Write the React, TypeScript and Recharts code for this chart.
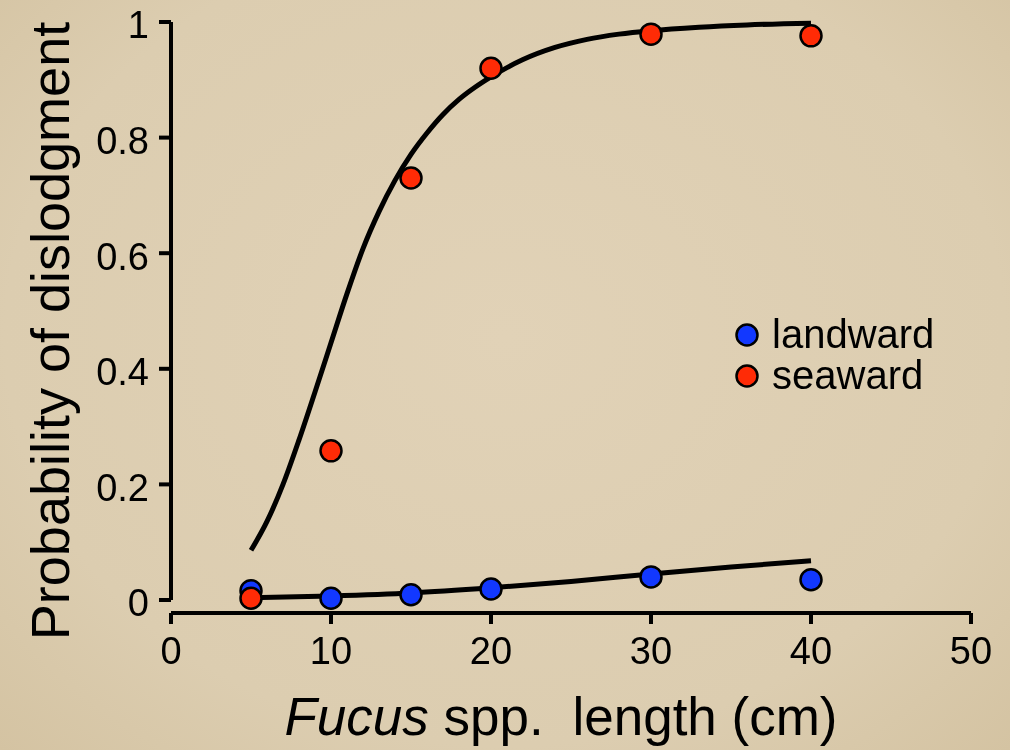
import React from 'react';
import { ComposedChart, Line, Scatter, XAxis, YAxis, ReferenceLine, Legend } from 'recharts';

const FONT = '"Liberation Sans", Arial, Helvetica, sans-serif';

// measured points (length in cm, probability)
const lengths = [5, 10, 15, 20, 30, 40];
const landward = [0.016, 0.003, 0.009, 0.019, 0.04, 0.035];
const seaward = [0.003, 0.258, 0.73, 0.92, 0.979, 0.976];

// fitted curves
const seaFitX = [5, 6, 7, 8, 9, 10, 11, 12, 13, 14, 15, 16, 17, 18, 19, 20, 22, 24, 26, 28, 30, 33, 36, 40];
const seaFitY = [0.086, 0.136, 0.2, 0.277, 0.36, 0.445, 0.53, 0.608, 0.672, 0.726, 0.771, 0.808, 0.84, 0.866, 0.887, 0.905, 0.935, 0.956, 0.97, 0.979, 0.985, 0.991, 0.995, 0.998];
const landFitX = [5, 10, 15, 20, 25, 30, 35, 40];
const landFitY = [0.004, 0.007, 0.012, 0.021, 0.032, 0.045, 0.057, 0.068];

const xTicks = [0, 10, 20, 30, 40, 50];
const yTicks = [0, 0.2, 0.4, 0.6, 0.8, 1];

const BLUE = '#1238ff';
const RED = '#ff2b06';

const landPts = lengths.map((x, i) => ({ x, y: landward[i] }));
const seaPts = lengths.map((x, i) => ({ x, y: seaward[i] }));
const seaFit = seaFitX.map((x, i) => ({ x, y: seaFitY[i] }));
const landFit = landFitX.map((x, i) => ({ x, y: landFitY[i] }));

const legendItems = [
  { name: 'landward', color: BLUE },
  { name: 'seaward', color: RED },
];

const dot = (color: string) => (props: any) => (
  <circle cx={props.cx} cy={props.cy} r={10.5} fill={color} stroke="#000" strokeWidth={2.5} />
);

const YTitle = () => (
  <text transform="translate(69, 331) rotate(-90)" textAnchor="middle" fontSize={54} fontFamily={FONT} fill="#000">
    Probability of dislodgment
  </text>
);

const XTitle = () => (
  <text x={561} y={735} textAnchor="middle" fontSize={53} fontFamily={FONT} fill="#000">
    <tspan fontStyle="italic">Fucus</tspan>
    <tspan> spp.</tspan>
    <tspan dx={14}> length (cm)</tspan>
  </text>
);

const renderLegend = () => (
  <svg width={240} height={90}>
    {legendItems.map((it, i) => (
      <g key={it.name}>
        <circle cx={14} cy={25 + i * 41} r={10.5} fill={it.color} stroke="#000" strokeWidth={2.5} />
        <text x={39} y={38 + i * 41} fontSize={40} fontFamily={FONT} fill="#000">
          {it.name}
        </text>
      </g>
    ))}
  </svg>
);

export default function App() {
  return (
    <div
      style={{
        position: 'fixed',
        left: 0,
        top: 0,
        width: 1010,
        height: 750,
        background: 'radial-gradient(ellipse at 50% 45%, #e1d2b7 0%, #dccdb0 70%, #d4c3a2 100%)',
      }}
    >
      <ComposedChart width={1010} height={750} margin={{ top: 22, right: 39, bottom: 0, left: 0 }}>
        <XAxis
          dataKey="x"
          type="number"
          domain={[0, 50]}
          ticks={xTicks}
          height={137}
          axisLine={{ stroke: '#000', strokeWidth: 4 }}
          tickLine={{ stroke: '#000', strokeWidth: 4 }}
          tickSize={11}
          tickMargin={13}
          tick={{ fill: '#000', fontSize: 38, fontFamily: FONT }}
          label={<XTitle />}
        />
        <YAxis
          dataKey="y"
          type="number"
          domain={[-0.0225, 1]}
          ticks={yTicks}
          width={171}
          axisLine={false}
          tickLine={{ stroke: '#000', strokeWidth: 4 }}
          tickSize={12}
          tickMargin={10}
          tick={{ fill: '#000', fontSize: 38, fontFamily: FONT, dy: 3 }}
          label={<YTitle />}
        />
        <ReferenceLine
          segment={[{ x: 0, y: 0 }, { x: 0, y: 1 }]}
          stroke="#000"
          strokeWidth={4}
          ifOverflow="visible"
        />
        <Legend
          layout="horizontal"
          verticalAlign="middle"
          align="center"
          content={renderLegend}
          wrapperStyle={{ left: 733, top: 310, width: 240 }}
        />
        <Line data={seaFit} dataKey="y" type="monotone" stroke="#000" strokeWidth={5} dot={false} isAnimationActive={false} legendType="none" />
        <Line data={landFit} dataKey="y" type="monotone" stroke="#000" strokeWidth={5} dot={false} isAnimationActive={false} legendType="none" />
        <Scatter data={landPts} dataKey="y" name="landward" shape={dot(BLUE)} isAnimationActive={false} />
        <Scatter data={seaPts} dataKey="y" name="seaward" shape={dot(RED)} isAnimationActive={false} />
      </ComposedChart>
    </div>
  );
}
